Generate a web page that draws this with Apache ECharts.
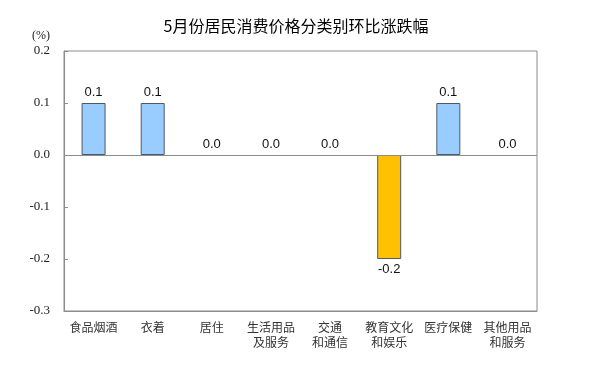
<!DOCTYPE html>
<html><head><meta charset="utf-8">
<script src="https://cdn.jsdelivr.net/npm/echarts@6/dist/echarts.min.js"></script>
<style>html,body{margin:0;padding:0;background:#fff}#c{width:592px;height:370px}</style>
</head><body><div id="c"></div>
<script>
var categories = ['食品烟酒','衣着','居住','生活用品\n及服务','交通\n和通信','教育文化\n和娱乐','医疗保健','其他用品\n和服务'];
var values = [0.1, 0.1, 0.0, 0.0, 0.0, -0.2, 0.1, 0.0];
var yTicks = [-0.3, -0.2, -0.1, 0.0, 0.1, 0.2];
var titleText = '5月份居民消费价格分类别环比涨跌幅';
var unitText = '(%)';

var chart = echarts.init(document.getElementById('c'));
chart.setOption({
  animation: false,
  title: {text: titleText, left: 'center', top: 13,
    textStyle: {fontFamily: 'Noto Sans CJK SC', fontSize: 16, fontWeight: 'normal', color: '#000'}},
  grid: {left: 64, right: 55, top: 51, bottom: 59, show: true, borderColor: '#8c8c8c', borderWidth: 1,
    outerBoundsMode: 'none', containLabel: false},
  xAxis: {type: 'category', data: categories,
    axisLine: {onZero: false, lineStyle: {color: '#8c8c8c'}},
    axisTick: {show: false},
    axisLabel: {interval: 0, margin: 9, fontFamily: 'Noto Sans CJK SC', fontSize: 12, color: '#333', lineHeight: 15, verticalAlign: 'top'}
  },
  yAxis: {type: 'value', min: yTicks[0], max: yTicks[yTicks.length-1], interval: 0.1,
    name: unitText, nameLocation: 'end', nameGap: 9,
    nameTextStyle: {fontFamily: 'Liberation Serif', fontSize: 12, color: '#222', align: 'right', padding: [0, 14, 0, 0]},
    axisLine: {show: true, lineStyle: {color: '#8c8c8c'}},
    axisTick: {show: true, inside: true, length: 4, lineStyle: {color: '#8c8c8c'}},
    splitLine: {show: false},
    axisLabel: {fontFamily: 'Liberation Serif', fontSize: 13, color: '#222', margin: 14,
      formatter: function(v){ return (Math.round(v*10)/10).toFixed(1); }}
  },
  series: [{type: 'bar', barWidth: 24,
    data: values.map(function(v){
      return {value: v,
        itemStyle: {color: v < 0 ? '#FFC000' : '#99CCFF', borderColor: '#4d5a66', borderWidth: v === 0 ? 0 : 1},
        label: {show: true, position: v < 0 ? 'bottom' : 'top', distance: 4}};
    }),
    label: {fontFamily: 'Liberation Sans', fontSize: 13, color: '#111',
      formatter: function(p){ return p.value.toFixed(1); }},
    markLine: {silent: true, symbol: 'none', label: {show: false},
      lineStyle: {color: '#8c8c8c', type: 'solid', width: 1},
      data: [{yAxis: 0}]}
  }]
});
</script></body></html>
